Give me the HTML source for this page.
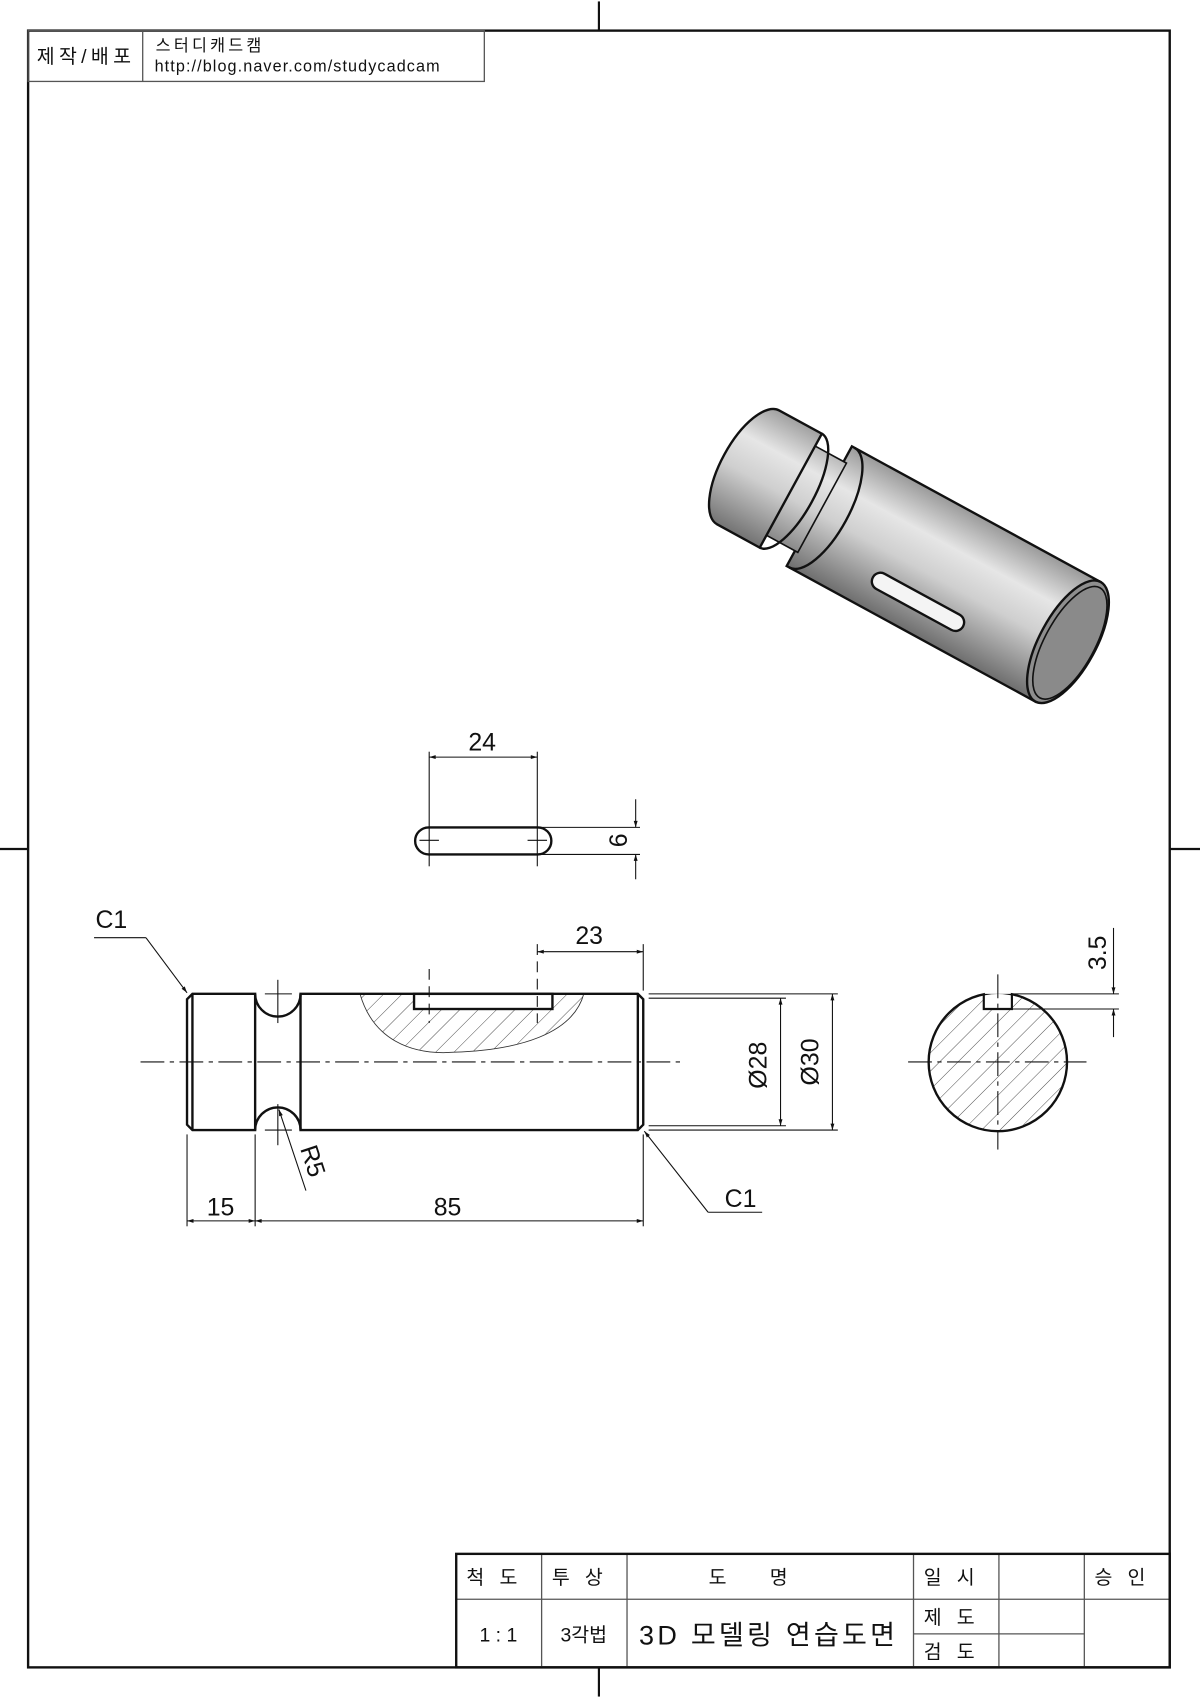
<!DOCTYPE html>
<html><head><meta charset="utf-8"><style>
html,body{margin:0;padding:0;background:#fff;}
svg{display:block;}
text{font-family:"Liberation Sans","Noto Sans CJK KR",sans-serif;fill:#111;}
</style></head><body>
<svg width="1200" height="1698" viewBox="0 0 1110 1568" xmlns="http://www.w3.org/2000/svg">
<defs>
<pattern id="hat" patternUnits="userSpaceOnUse" width="12" height="12" patternTransform="rotate(45)">
<line x1="0" y1="0" x2="0" y2="12" stroke="#333" stroke-width="0.8"/>
</pattern>
<linearGradient id="cyl" x1="0" y1="-63" x2="0" y2="63" gradientUnits="userSpaceOnUse">
<stop offset="0" stop-color="#9a9a9a"/><stop offset="0.3" stop-color="#e6e6e6"/><stop offset="0.55" stop-color="#cfcfcf"/><stop offset="1" stop-color="#6e6e6e"/>
</linearGradient>
<marker id="ar" viewBox="0 0 10 10" refX="10" refY="5" markerWidth="10" markerHeight="6" orient="auto-start-reverse" markerUnits="userSpaceOnUse">
<path d="M0,2 L10,5 L0,8 Z" fill="#111"/></marker>
<clipPath id="circ"><circle cx="923" cy="981" r="64"/></clipPath>
</defs>

<!-- frame -->
<rect x="26" y="27" width="1056" height="1514" fill="none" stroke="#111" stroke-width="2.2"/>
<g stroke="#111" stroke-width="2">
<line x1="554" y1="0" x2="554" y2="27"/><line x1="554" y1="1541" x2="554" y2="1568"/>
<line x1="0" y1="784" x2="26" y2="784"/><line x1="1082" y1="784" x2="1110" y2="784"/>
</g>

<!-- top-left block -->
<g stroke="#555" stroke-width="1.2" fill="none">
<rect x="26" y="27" width="422" height="47"/><line x1="132" y1="27" x2="132" y2="74"/>
</g>
<text x="34" y="57" font-size="18" letter-spacing="4">제작/배포</text>
<text x="144" y="46" font-size="15" letter-spacing="3">스터디캐드캠</text>
<text x="143" y="65" font-size="15" letter-spacing="1">http://blog.naver.com/studycadcam</text>

<!-- title block -->
<g stroke="#555" stroke-width="1.2" fill="none">
<line x1="422" y1="1478" x2="1082" y2="1478"/>
<line x1="501" y1="1436" x2="501" y2="1541"/><line x1="580" y1="1436" x2="580" y2="1541"/>
<line x1="845" y1="1436" x2="845" y2="1541"/><line x1="924" y1="1436" x2="924" y2="1541"/>
<line x1="1003" y1="1436" x2="1003" y2="1541"/><line x1="845" y1="1510" x2="1003" y2="1510"/>
</g>
<rect x="422" y="1436" width="660" height="105" fill="none" stroke="#111" stroke-width="2.2"/>
<g font-size="18" text-anchor="middle">
<text x="462" y="1464" letter-spacing="14">척도</text>
<text x="541" y="1464" letter-spacing="14">투상</text>
<text x="712" y="1464" letter-spacing="40">도명</text>
<text x="885" y="1464" letter-spacing="14">일시</text>
<text x="1043" y="1464" letter-spacing="14">승인</text>
<text x="461" y="1517">1 : 1</text>
<text x="540" y="1517">3각법</text>
<text x="885" y="1501" letter-spacing="14">제도</text>
<text x="885" y="1533" letter-spacing="14">검도</text>
<text x="711" y="1520" font-size="25" letter-spacing="3">3D 모델링 연습도면</text>
</g>

<!-- 3D view -->
<g transform="translate(-8 -14) rotate(28.6 700 445) translate(700 445)" stroke="#111" stroke-width="2.2">
<rect x="75" y="-63" width="262" height="126" fill="url(#cyl)"/>
<path d="M45,-47 L78,-47 L78,47 L45,47 Z" fill="url(#cyl)" stroke-width="1.5"/>
<path d="M45,-60 L45,60 L0,60 A25,60 0 0 1 0,-60 Z" fill="url(#cyl)"/>
<path d="M45,-60 A22,60 0 0 1 45,60" fill="none"/>
<path d="M78,-63 A25,63 0 0 1 78,63" fill="none"/>
<ellipse cx="337" cy="0" rx="26" ry="63" fill="#8e8e8e"/>
<ellipse cx="339" cy="0" rx="23" ry="58" fill="#8a8a8a" stroke-width="1.5"/>
<rect x="150" y="26" width="95" height="16" rx="8" fill="#f4f4f4"/>
</g>

<!-- slot view -->
<rect x="384" y="764" width="126" height="25" rx="12.5" fill="none" stroke="#111" stroke-width="2.2"/>
<g stroke="#111" stroke-width="1">
<line x1="397" y1="694" x2="397" y2="800"/><line x1="497" y1="694" x2="497" y2="800"/>
<line x1="388" y1="776" x2="406" y2="776"/><line x1="488" y1="776" x2="506" y2="776"/>
<line x1="397" y1="699" x2="497" y2="699" marker-start="url(#ar)" marker-end="url(#ar)"/>
<line x1="500" y1="764" x2="592" y2="764"/><line x1="500" y1="789" x2="592" y2="789"/>
<line x1="588" y1="738" x2="588" y2="764" marker-end="url(#ar)"/>
<line x1="588" y1="812" x2="588" y2="789" marker-end="url(#ar)"/>
</g>
<text x="446" y="693" font-size="23" text-anchor="middle">24</text>
<text transform="translate(580 776) rotate(-90)" font-size="23" text-anchor="middle">6</text>

<!-- main view -->
<path d="M333,918 C345,960 380,975 420,972 C480,970 530,955 540,918 Z" fill="url(#hat)" stroke="#333" stroke-width="0.8"/>
<rect x="383" y="918" width="128" height="14" fill="#fff" stroke="#111" stroke-width="2.2"/>
<g stroke="#111" stroke-width="2.2" fill="none">
<path d="M178,918 L236,918 A21,21 0 0 0 278,918 L590,918 L595,923 L595,1039 L590,1044 L278,1044 A21,21 0 0 0 236,1044 L178,1044 L173,1039 L173,923 Z"/>
<line x1="178" y1="918" x2="178" y2="1044"/><line x1="590" y1="918" x2="590" y2="1044"/>
<line x1="236" y1="918" x2="236" y2="1044"/><line x1="278" y1="918" x2="278" y2="1044"/>
</g>
<g stroke="#111" stroke-width="1" fill="none">
<line x1="130" y1="981" x2="630" y2="981" stroke-dasharray="22,5,4,5"/>
<line x1="397" y1="895" x2="397" y2="945" stroke-dasharray="10,6"/>
<line x1="497" y1="872" x2="497" y2="945" stroke-dasharray="10,6"/>
<line x1="257" y1="905" x2="257" y2="945"/><line x1="245" y1="918" x2="270" y2="918"/>
<line x1="257" y1="1020" x2="257" y2="1058"/><line x1="245" y1="1044" x2="270" y2="1044"/>
<line x1="595" y1="872" x2="595" y2="915"/>
<line x1="497" y1="879" x2="595" y2="879" marker-start="url(#ar)" marker-end="url(#ar)"/>
<line x1="600" y1="922" x2="727" y2="922"/><line x1="600" y1="1040" x2="727" y2="1040"/>
<line x1="600" y1="918" x2="775" y2="918"/><line x1="600" y1="1044" x2="775" y2="1044"/>
<line x1="722" y1="922" x2="722" y2="1040" marker-start="url(#ar)" marker-end="url(#ar)"/>
<line x1="770" y1="918" x2="770" y2="1044" marker-start="url(#ar)" marker-end="url(#ar)"/>
<polyline points="87,866 135,866"/><line x1="135" y1="866" x2="173" y2="917" marker-end="url(#ar)"/>
<polyline points="705,1120 655,1120"/><line x1="655" y1="1120" x2="596" y2="1045" marker-end="url(#ar)"/>
<line x1="283" y1="1100" x2="258" y2="1025" marker-end="url(#ar)"/>
<line x1="173" y1="1048" x2="173" y2="1133"/><line x1="236" y1="1048" x2="236" y2="1133"/><line x1="595" y1="1048" x2="595" y2="1133"/>
<line x1="173" y1="1128" x2="236" y2="1128" marker-start="url(#ar)" marker-end="url(#ar)"/>
<line x1="236" y1="1128" x2="595" y2="1128" marker-start="url(#ar)" marker-end="url(#ar)"/>
</g>
<g font-size="23" text-anchor="middle">
<text x="103" y="857">C1</text>
<text x="685" y="1115">C1</text>
<text x="545" y="872">23</text>
<text x="204" y="1123">15</text>
<text x="414" y="1123">85</text>
<text transform="translate(282 1075) rotate(72)">R5</text>
<text transform="translate(709 984) rotate(-90)">Ø28</text>
<text transform="translate(757 981) rotate(-90)">Ø30</text>
<text transform="translate(1023 880) rotate(-90)">3.5</text>
</g>

<!-- section view -->
<rect x="855" y="915" width="140" height="135" fill="url(#hat)" clip-path="url(#circ)"/>
<rect x="910" y="914" width="26" height="18" fill="#fff"/>
<path d="M910,918.5 L910,932 L936,932 L936,918.5" fill="none" stroke="#111" stroke-width="2"/>
<circle cx="923" cy="981" r="64" fill="none" stroke="#111" stroke-width="2.2"/>
<rect x="911" y="915" width="24" height="3" fill="#fff"/>
<g stroke="#111" stroke-width="1" fill="none">
<line x1="840" y1="981" x2="1005" y2="981" stroke-dasharray="22,5,4,5"/>
<line x1="923" y1="900" x2="923" y2="1062" stroke-dasharray="22,5,4,5"/>
<line x1="936" y1="918" x2="1035" y2="918"/><line x1="936" y1="932" x2="1035" y2="932"/>
<line x1="1030" y1="857" x2="1030" y2="918" marker-end="url(#ar)"/>
<line x1="1030" y1="958" x2="1030" y2="932" marker-end="url(#ar)"/>
</g>
</svg>
</body></html>
